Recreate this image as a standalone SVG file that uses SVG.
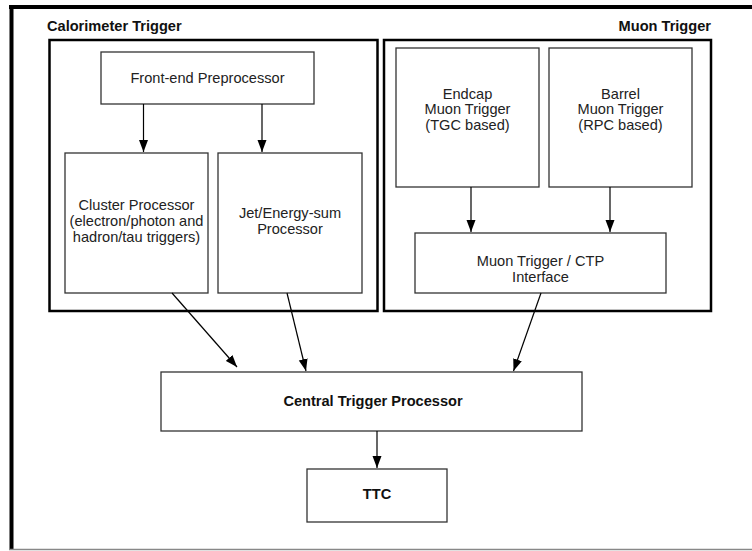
<svg xmlns="http://www.w3.org/2000/svg" width="752" height="551" viewBox="0 0 752 551">
<defs>
<marker id="ah" viewBox="0 0 12 10" refX="12" refY="5" markerWidth="12" markerHeight="10" markerUnits="userSpaceOnUse" orient="auto">
<path d="M0,0.5 L12,5 L0,9.5 Z" fill="#000"/>
</marker>
<style>
.box{fill:#fff;stroke:#333;stroke-width:1.3}
.grp{fill:none;stroke:#000;stroke-width:2.5}
.t{font-family:"Liberation Sans",Arial,sans-serif;font-size:14.6px;fill:#222;text-anchor:middle}
.b{font-family:"Liberation Sans",Arial,sans-serif;font-weight:bold;fill:#111}
.c{stroke:#000;stroke-width:1.2;fill:none;marker-end:url(#ah)}
</style>
</defs>
<rect width="752" height="551" fill="#fff"/>
<g id="frame">
<line x1="9" y1="7" x2="752" y2="7" stroke="#000" stroke-width="4"/>
<line x1="11.5" y1="5" x2="11.5" y2="549" stroke="#000" stroke-width="4"/>
<line x1="9" y1="549.5" x2="752" y2="549.5" stroke="#888" stroke-width="1.5"/>
</g>
<g id="calorimeter-trigger">
<rect class="grp" x="49.5" y="40" width="328" height="271"/>
<text class="b" x="47" y="31" font-size="14.6">Calorimeter Trigger</text>
</g>
<g id="muon-trigger">
<rect class="grp" x="384" y="40" width="327" height="271"/>
<text class="b" x="711" y="31" font-size="14.6" text-anchor="end">Muon Trigger</text>
</g>
<g id="front-end">
<rect class="box" x="101" y="52" width="213" height="52"/>
<text class="t" x="207.5" y="83">Front-end Preprocessor</text>
</g>
<g id="cluster">
<rect class="box" x="65" y="153" width="143" height="140"/>
<text class="t" x="136.5" y="210">Cluster Processor</text>
<text class="t" x="136.5" y="226">(electron/photon and</text>
<text class="t" x="136.5" y="242">hadron/tau triggers)</text>
</g>
<g id="jet">
<rect class="box" x="218" y="153" width="144" height="140"/>
<text class="t" x="290" y="218">Jet/Energy-sum</text>
<text class="t" x="290" y="234">Processor</text>
</g>
<g id="endcap">
<rect class="box" x="396" y="48" width="143" height="139"/>
<text class="t" x="467.5" y="99">Endcap</text>
<text class="t" x="467.5" y="114">Muon Trigger</text>
<text class="t" x="467.5" y="130">(TGC based)</text>
</g>
<g id="barrel">
<rect class="box" x="549" y="48" width="143" height="139"/>
<text class="t" x="620.5" y="99">Barrel</text>
<text class="t" x="620.5" y="114">Muon Trigger</text>
<text class="t" x="620.5" y="130">(RPC based)</text>
</g>
<g id="muctpi">
<rect class="box" x="415" y="233" width="251" height="60"/>
<text class="t" x="540.5" y="266">Muon Trigger / CTP</text>
<text class="t" x="540.5" y="282">Interface</text>
</g>
<g id="ctp">
<rect class="box" x="161" y="372" width="421" height="59"/>
<text class="b" x="373" y="406" font-size="14.6" text-anchor="middle">Central Trigger Processor</text>
</g>
<g id="ttc">
<rect class="box" x="307" y="469" width="140" height="53"/>
<text class="b" x="377" y="499" font-size="14.6" text-anchor="middle">TTC</text>
</g>
<g id="connectors">
<line class="c" x1="143.5" y1="104" x2="143.5" y2="152"/>
<line class="c" x1="262" y1="104" x2="262" y2="152"/>
<line class="c" x1="471" y1="187" x2="471" y2="232"/>
<line class="c" x1="610" y1="187" x2="610" y2="232"/>
<line class="c" x1="172" y1="293" x2="237" y2="367"/>
<line class="c" x1="287" y1="293" x2="306" y2="371"/>
<line class="c" x1="541" y1="293" x2="513.5" y2="371"/>
<line class="c" x1="377" y1="431" x2="377" y2="468"/>
</g>
</svg>
